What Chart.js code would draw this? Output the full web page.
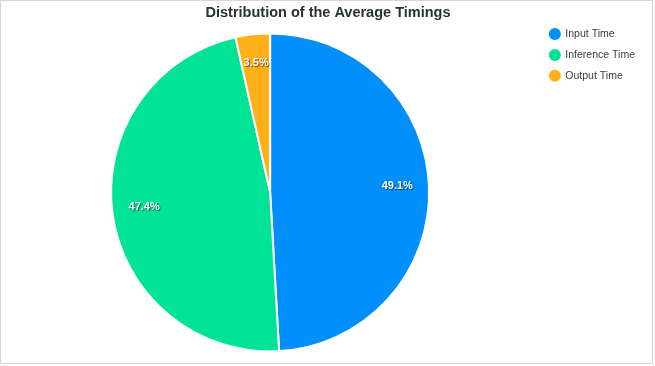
<!DOCTYPE html>
<html>
<head>
<meta charset="utf-8">
<script src="https://cdn.jsdelivr.net/npm/chart.js@4.4.0/dist/chart.umd.min.js"></script>
<style>
    html, body { margin: 0; padding: 0; background: #fff; }
    #wrap {
        position: absolute;
        left: 0;
        top: 0;
        width: 651px;
        height: 362px;
        border: 1px solid #d6d6d6;
        background: #fff;
    }
    #timings { display: block; }
</style>
</head>
<body>
<div id="wrap"><canvas id="timings" width="651" height="362"></canvas></div>
<script>
var labels = ['Input Time', 'Inference Time', 'Output Time'];
var shares = [49.1, 47.4, 3.5];
var colours = ['#008FFB', '#00E396', '#FEB019'];

var fontFamily = '"Liberation Sans", Arial, Helvetica, sans-serif';

// percentage labels drawn inside each slice, apex-style
var sliceLabels = {
    id: 'sliceLabels',
    afterDatasetsDraw: function (chart) {
        var ctx = chart.ctx;
        var meta = chart.getDatasetMeta(0);
        var data = chart.data.datasets[0].data;
        var total = data.reduce(function (a, b) { return a + b; }, 0);
        ctx.save();
        ctx.font = 'bold 11px ' + fontFamily;
        ctx.textAlign = 'center';
        ctx.textBaseline = 'middle';
        ctx.fillStyle = '#fff';
        ctx.shadowColor = 'rgba(0, 0, 0, 0.6)';
        ctx.shadowOffsetX = 1;
        ctx.shadowOffsetY = 1;
        ctx.shadowBlur = 1;
        meta.data.forEach(function (arc, i) {
            var p = arc.getProps(['x', 'y', 'startAngle', 'endAngle', 'outerRadius'], true);
            var mid = (p.startAngle + p.endAngle) / 2;
            var r = p.outerRadius * 0.8;
            var text = (data[i] / total * 100).toFixed(1) + '%';
            ctx.fillText(text, p.x + Math.cos(mid) * r, p.y + Math.sin(mid) * r - 3);
        });
        ctx.restore();
    }
};

// extra room between the pie and the legend
var legendGap = {
    id: 'legendGap',
    beforeInit: function (chart) {
        var fit = chart.legend.fit;
        chart.legend.fit = function () {
            fit.call(this);
            this.width += 10;
        };
    }
};

var el = document.getElementById('timings');
new Chart(el, {
    type: 'pie',
    data: {
        labels: labels,
        datasets: [{
            data: shares,
            backgroundColor: colours,
            hoverBackgroundColor: colours,
            borderColor: '#fff',
            borderWidth: 2,
            radius: 159
        }]
    },
    options: {
        responsive: false,
        animation: false,
        layout: {
            padding: { left: 0, right: -3, top: 17.35, bottom: 0 }
        },
        plugins: {
            title: {
                display: true,
                text: 'Distribution of the Average Timings',
                color: '#263238',
                font: { family: fontFamily, size: 14.5, weight: 'bold' },
                // pulled up above the layout padding so the legend can start lower
                padding: { top: -14, bottom: 0 }
            },
            legend: {
                position: 'right',
                align: 'start',
                labels: {
                    usePointStyle: true,
                    pointStyle: 'circle',
                    boxWidth: 11,
                    boxHeight: 8.5,
                    padding: 10.4,
                    color: '#373d3f',
                    font: { family: fontFamily, size: 10.5 },
                    generateLabels: function (chart) {
                        // no white ring round the legend markers
                        var items = Chart.overrides.pie.plugins.legend.labels.generateLabels(chart);
                        items.forEach(function (item) {
                            item.lineWidth = 0;
                        });
                        return items;
                    }
                }
            },
            tooltip: { enabled: false }
        }
    },
    plugins: [sliceLabels, legendGap]
});
</script>
</body>
</html>
